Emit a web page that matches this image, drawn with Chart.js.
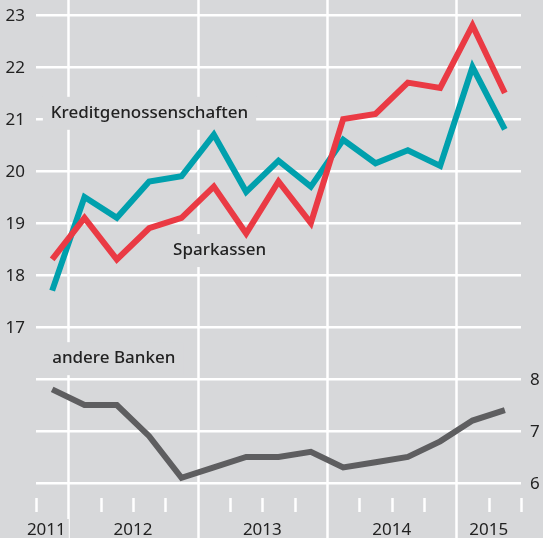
<!DOCTYPE html>
<html>
<head>
<meta charset="utf-8">
<script src="https://cdn.jsdelivr.net/npm/chart.js@4.4.1/dist/chart.umd.min.js"></script>
<style>
  body { margin: 0; background: #d7d8da; }
  canvas { display: block; }
</style>
</head>
<body>
<canvas id="chart" width="543" height="538"></canvas>
<script>
// quarters 2011 Q4 .. 2015 Q2
const quarters = ["2011Q4", "2012Q1", "2012Q2", "2012Q3", "2012Q4", "2013Q1", "2013Q2", "2013Q3",
  "2013Q4", "2014Q1", "2014Q2", "2014Q3", "2014Q4", "2015Q1", "2015Q2"];
const sparkassen = [18.3, 19.1, 18.3, 18.9, 19.1, 19.7, 18.8, 19.8, 19.0, 21.0, 21.1, 21.7, 21.6, 22.8, 21.5];
const kredit = [17.7, 19.5, 19.1, 19.8, 19.9, 20.7, 19.6, 20.2, 19.7, 20.6, 20.15, 20.4, 20.1, 22.0, 20.8];
const andere = [7.8, 7.5, 7.5, 6.9, 6.1, 6.3, 6.5, 6.5, 6.6, 6.3, 6.4, 6.5, 6.8, 7.2, 7.4];
const leftTicks = [17, 18, 19, 20, 21, 22, 23];
const rightTicks = [6, 7, 8];
const years = ["2011", "2012", "2013", "2014", "2015"];
const yearPos = [0.32, 3, 7, 11, 14];   // label centres in quarter units
const yearLines = [1, 5, 9, 13];        // year boundaries

const BG = "#d7d8da";
const FONT = "17px 'Noto Sans'";
const LABEL_FONT = "500 17px 'Noto Sans'";
const TXT = "#222222";

const pts = (arr) => arr.map((v, i) => ({ x: i + 0.5, y: v }));

const decor = {
  id: "decor",
  beforeDraw(chart) {
    const c = chart.ctx;
    c.save();
    c.fillStyle = BG;
    c.fillRect(0, 0, chart.width, chart.height);
    c.restore();
  },
  beforeDatasetsDraw(chart) {
    const c = chart.ctx;
    const x = chart.scales.x;
    const y = chart.scales.y;
    const y2 = chart.scales.y2;
    c.save();
    c.strokeStyle = "#fff";
    c.lineWidth = 2.5;
    // year lines, full height
    yearLines.forEach((q) => {
      const px = Math.round(x.getPixelForValue(q)) + 0.5;
      c.beginPath();
      c.moveTo(px, 0);
      c.lineTo(px, chart.height);
      c.stroke();
    });
    // quarter tick marks
    for (let q = 0; q <= quarters.length; q++) {
      if (yearLines.includes(q)) continue;
      const px = Math.round(x.getPixelForValue(q)) + 0.5;
      c.beginPath();
      c.moveTo(px, 498);
      c.lineTo(px, 512);
      c.stroke();
    }
    c.font = FONT;
    c.textBaseline = "middle";
    // axis labels
    c.fillStyle = TXT;
    c.textAlign = "right";
    leftTicks.forEach((v) => c.fillText(String(v), chart.chartArea.left - 11, y.getPixelForValue(v) + 1));
    c.textAlign = "left";
    rightTicks.forEach((v) => c.fillText(String(v), chart.chartArea.right + 9, y2.getPixelForValue(v) + 1));
    // year labels
    c.textAlign = "center";
    years.forEach((t, i) => {
      const px = x.getPixelForValue(yearPos[i]);
      const w = c.measureText(t).width;
      c.fillStyle = BG;
      c.fillRect(px - w / 2 - 3, 519, w + 6, 19);
      c.fillStyle = TXT;
      c.fillText(t, px, 530);
    });
    // series labels with background boxes
    const labels = [
      { text: "Kreditgenossenschaften", x: 0.46, y: y.getPixelForValue(21.12) },
      { text: "Sparkassen", x: 4.24, y: y.getPixelForValue(18.48) },
      { text: "andere Banken", x: 0.5, y: y2.getPixelForValue(8.4) },
    ];
    c.font = LABEL_FONT;
    c.textAlign = "left";
    labels.forEach((l) => {
      const px = x.getPixelForValue(l.x);
      const w = c.measureText(l.text).width;
      c.fillStyle = BG;
      c.fillRect(px - 8, l.y - 16, w + 16, 33);
      c.fillStyle = TXT;
      c.fillText(l.text, px, l.y);
    });
    c.restore();
  },
};

const yMin = 13.73, yMax = 23.29;

new Chart(document.getElementById("chart"), {
  type: "line",
  data: {
    datasets: [
      { label: "andere Banken", data: pts(andere), yAxisID: "y2", borderColor: "#5e5e60" },
      { label: "Sparkassen", data: pts(sparkassen), yAxisID: "y", borderColor: "#ea3a44" },
      { label: "Kreditgenossenschaften", data: pts(kredit), yAxisID: "y", borderColor: "#00a0ad" },
    ],
  },
  options: {
    responsive: false,
    animation: false,
    layout: { padding: { top: 0, bottom: 41, left: 0, right: 0 } },
    elements: {
      line: { borderWidth: 6, tension: 0, borderJoinStyle: "miter", borderCapStyle: "butt", fill: false },
      point: { radius: 0 },
    },
    plugins: { legend: { display: false }, tooltip: { enabled: false } },
    scales: {
      x: { type: "linear", min: 0, max: quarters.length, display: false },
      y: {
        position: "left",
        min: yMin,
        max: yMax,
        afterBuildTicks: (s) => { s.ticks = [14, 15, 16, ...leftTicks].map((v) => ({ value: v })); },
        afterFit: (s) => { s.width = 36; },
        ticks: { display: false },
        grid: { color: "#fff", lineWidth: 2.5, drawTicks: false },
        border: { display: false },
      },
      y2: {
        position: "right",
        min: yMin - 8,
        max: yMax - 8,
        afterBuildTicks: (s) => { s.ticks = rightTicks.map((v) => ({ value: v })); },
        afterFit: (s) => { s.width = 22; },
        ticks: { display: false },
        grid: { display: false },
        border: { display: false },
      },
    },
  },
  plugins: [decor],
});
</script>
</body>
</html>
